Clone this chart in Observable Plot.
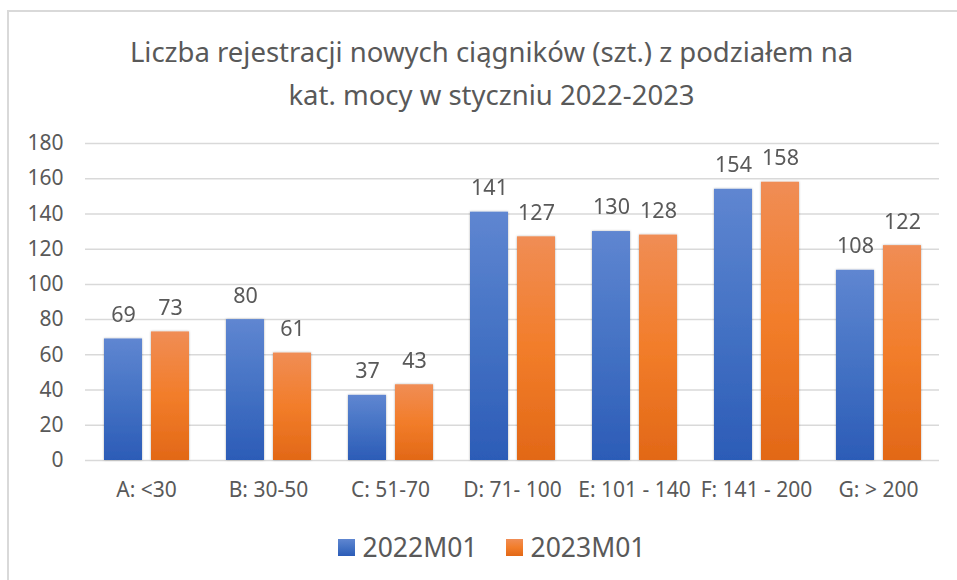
<!DOCTYPE html>
<html>
<head>
<meta charset="utf-8">
<script src="https://cdn.jsdelivr.net/npm/d3@7"></script>
<script src="https://cdn.jsdelivr.net/npm/@observablehq/plot@0.6"></script>
<style>
  html, body { margin: 0; padding: 0; background: #fff; }
  #wrap { position: relative; width: 957px; height: 580px; overflow: hidden; background: #fff; font-family: "Noto Sans", sans-serif; color: #595959; }
  #frame { position: absolute; left: 7px; top: 10px; width: 960px; height: 590px; border-left: 2px solid #d9d9d9; border-top: 2px solid #d9d9d9; }
  #title { position: absolute; left: 0; top: 30px; width: 983px; text-align: center; font-size: 27.5px; line-height: 43px; color: #595959; }
  #chart { position: absolute; left: 0; top: 0; }
  #legend { position: absolute; left: 0; top: 532px; width: 983px; display: flex; justify-content: center; align-items: center; font-size: 26.5px; line-height: 30px; color: #595959; }
  .item { display: flex; align-items: center; margin: 0 14px; }
  .sw { width: 17px; height: 17px; margin-right: 8px; }
</style>
</head>
<body>
<div id="wrap">
  <div id="frame"></div>
  <div id="title">Liczba rejestracji nowych ciągników (szt.) z podziałem na<br>kat. mocy w styczniu 2022-2023</div>
  <div id="chart"></div>
  <div id="legend"></div>
</div>
<script>
const categories = ["A: <30", "B: 30-50", "C: 51-70", "D: 71- 100", "E: 101 - 140", "F: 141 - 200", "G: > 200"];
const series = ["2022M01", "2023M01"];
const values2022 = [69, 80, 37, 141, 130, 154, 108];
const values2023 = [73, 61, 43, 127, 128, 158, 122];
const yTicks = [0, 20, 40, 60, 80, 100, 120, 140, 160, 180];

const gradients = {
  "2022M01": ["#5f86d1", "#4472c4", "#2c5cb7"],
  "2023M01": ["#f08d55", "#f27d2a", "#e26817"]
};

const data = categories.flatMap((c, i) => [
  {category: c, series: series[0], value: values2022[i]},
  {category: c, series: series[1], value: values2023[i]}
]);

const chart = Plot.plot({
  width: 957,
  height: 580,
  marginTop: 143,
  marginBottom: 120,
  marginLeft: 84,
  marginRight: 17,
  style: {fontFamily: "Noto Sans", fontSize: "21px", color: "#595959", background: "transparent", overflow: "visible"},
  fx: {domain: categories, padding: 0, label: null, axis: "bottom", tickSize: 0, tickPadding: 22},
  x: {domain: series, paddingInner: 0.2, paddingOuter: 0.386, axis: null},
  y: {domain: [0, 180], ticks: yTicks, tickSize: 0, tickPadding: 22, label: null},
  color: {domain: series, range: ["url(#g2022)", "url(#g2023)"]},
  marks: [
    Plot.gridY(yTicks, {stroke: "#d9d9d9", strokeOpacity: 1, strokeWidth: 1.5}),
    Plot.barY(data, {fx: "category", x: "series", y: "value", fill: "series"}),
    Plot.text(data, {fx: "category", x: "series", y: "value", text: d => String(d.value), dy: -24, fill: "#595959", fontSize: 21.5})
  ]
});

// gradients + subtle shadow
const svg = d3.select(chart);
const defs = svg.insert("defs", ":first-child");
const ids = {"2022M01": "g2022", "2023M01": "g2023"};
for (const s of series) {
  const g = defs.append("linearGradient").attr("id", ids[s]).attr("x1", 0).attr("y1", 0).attr("x2", 0).attr("y2", 1);
  g.append("stop").attr("offset", "0%").attr("stop-color", gradients[s][0]);
  g.append("stop").attr("offset", "50%").attr("stop-color", gradients[s][1]);
  g.append("stop").attr("offset", "100%").attr("stop-color", gradients[s][2]);
}
const f = defs.append("filter").attr("id", "shadow").attr("x", "-20%").attr("y", "-10%").attr("width", "140%").attr("height", "120%");
f.append("feDropShadow").attr("dx", 0).attr("dy", 0).attr("stdDeviation", 1.2).attr("flood-color", "#000").attr("flood-opacity", 0.3);
svg.selectAll('g[aria-label="bar"]').attr("filter", "url(#shadow)");

document.getElementById("chart").appendChild(chart);

const legend = d3.select("#legend");
for (const s of series) {
  const it = legend.append("div").attr("class", "item");
  it.append("div").attr("class", "sw").style("background", `linear-gradient(${gradients[s][0]}, ${gradients[s][1]}, ${gradients[s][2]})`);
  it.append("span").text(s);
}
</script>
</body>
</html>
